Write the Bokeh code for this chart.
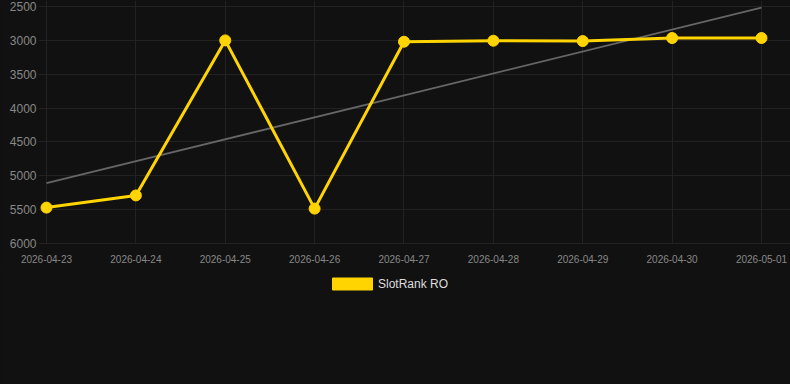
from bokeh.plotting import figure
from bokeh.layouts import column
from bokeh.models import Range1d, FixedTicker, Legend, LegendItem, ColumnDataSource
from bokeh.embed import file_html
from bokeh.resources import INLINE

dates = ["2026-04-23", "2026-04-24", "2026-04-25", "2026-04-26", "2026-04-27",
         "2026-04-28", "2026-04-29", "2026-04-30", "2026-05-01"]
rank = [5470, 5290, 3000, 5485, 3020, 3005, 3010, 2965, 2965]
trend_x = [0, 8]
trend_y = [5110, 2515]
y_ticks = [2500, 3000, 3500, 4000, 4500, 5000, 5500, 6000]
series_name = "SlotRank RO"

xs = list(range(len(dates)))
BG = "#111111"
GOLD = "#FFD400"
bg_style = {"background-color": BG}

p = figure(width=790, height=270, output_backend="svg", toolbar_location=None,
           x_range=Range1d(-0.0895, 8.3245), y_range=Range1d(6015, 2411),
           min_border_left=38, min_border_right=0, min_border_top=0, min_border_bottom=26,
           styles=bg_style)
p.background_fill_color = BG
p.border_fill_color = BG
p.outline_line_color = None

p.xgrid.grid_line_color = "#222222"
p.ygrid.grid_line_color = "#222222"
p.xaxis.ticker = FixedTicker(ticks=xs)
p.xaxis.major_label_overrides = {i: d for i, d in enumerate(dates)}
p.yaxis.ticker = FixedTicker(ticks=y_ticks)
p.xgrid.ticker = FixedTicker(ticks=xs)
p.ygrid.ticker = FixedTicker(ticks=y_ticks)

for ax in (p.xaxis, p.yaxis):
    ax.axis_line_color = None
    ax.axis_line_alpha = 0
    ax.major_tick_line_color = None
    ax.minor_tick_line_color = None
    ax.major_tick_out = 0
    ax.major_tick_in = 0
    ax.major_label_text_color = "#888888"
    ax.major_label_text_font = "Liberation Sans"
p.yaxis.major_label_text_font_size = "12px"
p.yaxis.major_label_standoff = 2
p.xaxis.major_label_text_font_size = "10px"
p.xaxis.major_label_standoff = 10

p.line(trend_x, trend_y, line_color="#666666", line_width=1.8)
src = ColumnDataSource(dict(x=xs, y=rank))
p.line("x", "y", source=src, line_color=GOLD, line_width=3)
p.scatter("x", "y", source=src, size=11, fill_color=GOLD, line_color=GOLD)

# legend panel below the chart
lg = figure(width=790, height=114, output_backend="svg", toolbar_location=None,
            x_range=Range1d(0, 1), y_range=Range1d(0, 1),
            x_axis_type=None, y_axis_type=None,
            min_border_left=0, min_border_right=0, min_border_top=0, min_border_bottom=0,
            styles=bg_style)
lg.background_fill_color = BG
lg.border_fill_color = BG
lg.outline_line_color = None
lg.grid.visible = False
nan = float("nan")
dummy = lg.quad(left=[nan], right=[nan], top=[nan], bottom=[nan],
                fill_color=GOLD, line_color=GOLD)
legend = Legend(items=[LegendItem(label=series_name, renderers=[dummy])],
                orientation="horizontal", location=(289, 93),
                background_fill_alpha=0, border_line_color=None,
                glyph_width=50, glyph_height=15, label_height=12, label_standoff=1,
                label_text_color="#dddddd", label_text_font="Liberation Sans",
                label_text_font_size="12px", padding=0, margin=0, spacing=0)
lg.add_layout(legend, "center")

layout = column(p, lg, spacing=0, styles=bg_style)
open("out.html", "w").write(file_html(layout, INLINE))
